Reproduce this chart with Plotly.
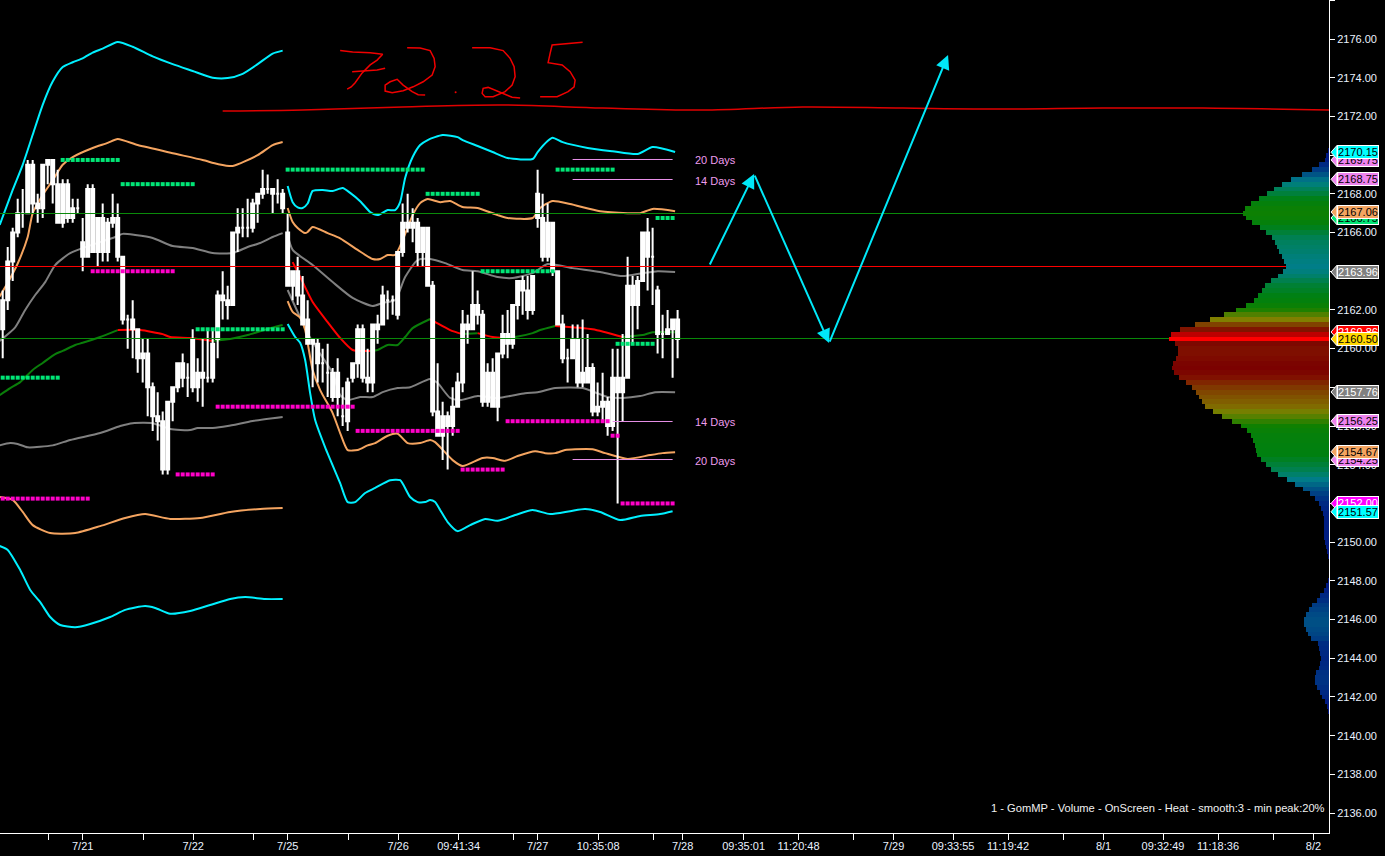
import plotly.graph_objects as go

BG = "#000000"
bars = list(range(136))
opens = [2162.5,2164.5,2166,2167,2167,2169.5,2169.5,2167.5,2169.5,2169.75,2169.75,2168.5,2168.5,2168.5,2167.25,2167.25,
 2165.5,2168.25,2168.25,2166.75,2166.75,2166.5,2166.75,2166.75,2164.75,2161.5,2161.5,2161,2159.75,2159.75,2158,2156.5,
 2156.25,2157.25,2158,2159.25,2159.25,2158.5,2160.5,2158.75,2158.75,2158.5,2160.25,2162.75,2162.75,2162.5,2166,2166.25,
 2166.25,2166.25,2167.5,2168,2168.25,2168.25,2168.25,2168,2168,2166,2164,2164,2162.75,2161.5,2160.5,2160.25,2159.25,2158.75,
 2158.75,2158.75,2156.5,2158.25,2159.25,2161,2161,2158.5,2161.25,2161.25,2162.75,2162.5,2162.5,2165,2166.5,2166.5,2166.5,2166.5,
 2166.25,2166.25,2163.25,2156.75,2156.5,2156.5,2157,2158.25,2161.25,2161.25,2162.25,2162.25,2161.75,2158.75,2158.75,2159.75,
 2160.75,2160.75,2162.25,2163.5,2163.5,2163,2163.75,2168,2166.75,2166.5,2166.5,2164,2161.25,2159.5,2160.5,2160.5,2158.75,2159,
 2159,2157,2157.25,2157.25,2158.5,2158.5,2158.5,2163.25,2163.25,2163.5,2166,2166,2164.75,2163,2160.75,2161,2161.5,2161.5]
closes = [2161,2162.5,2164.5,2166,2167,2167,2167.5,2167.25,2167.25,2169.5,2168.5,2166.5,2166.5,2166.75,2166.75,2167.25,
 2164.75,2164.75,2165,2165,2165,2165,2166.5,2164.75,2161.5,2161.5,2161,2159.5,2159.5,2158,2156.5,2156.25,
 2153.75,2153.75,2157.25,2158,2158.5,2158.5,2158,2158,2158.5,2158.5,2158.5,2160.5,2162.5,2162.25,2162.25,2166,
 2166.25,2166.25,2166.25,2167.5,2168,2168.25,2168,2168,2167.25,2163.25,2163.25,2162.75,2161.25,2160.25,2160.25,2159.25,2159.25,2158.75,
 2157.5,2157.5,2156.5,2156.25,2158.5,2159.25,2158.5,2158.25,2158.25,2161,2161.25,2162.5,2162.5,2161.75,2165,2166.25,2166.25,2165,
 2165,2163.25,2156.75,2155.5,2155.5,2156,2156,2157,2158.25,2161,2161,2161.75,2157.25,2157.25,2157,2157,
 2159.75,2160.25,2160.25,2162.25,2163,2162,2162,2166.75,2164.75,2164.75,2164,2161.25,2159.5,2159.5,2159.5,2158.25,2158.25,2158.25,
 2156.75,2156.75,2157,2156,2156,2157.75,2157.75,2158.5,2162.25,2162.25,2163.5,2164.75,2164.75,2160.75,2160.75,2160.75,2161,2160.5]
highs = [2163,2165.25,2166.25,2167.75,2168.25,2169.75,2169.75,2168,2169.5,2169.75,2169.75,2169.25,2168.75,2168.75,2167.75,2167.75,
 2166.75,2168.5,2168.5,2166.75,2167.5,2166.75,2168,2167.5,2164.75,2161.75,2162.5,2161,2160.5,2160.5,2158.25,2157.75,
 2156.75,2157.25,2158,2159.25,2159.75,2159.25,2161,2159.5,2160.5,2161,2161,2163,2164,2163.25,2166,2167.25,
 2167.25,2167.75,2167.75,2168,2169.25,2169,2168.25,2168.75,2168.25,2167,2164,2164.75,2163.75,2162.5,2160.5,2160.5,2160,2160.25,
 2159,2159.5,2158,2158.5,2159.25,2161.25,2161.25,2160,2161.25,2161.75,2163.25,2163,2162.75,2165,2167.5,2168,2167.25,2166.75,
 2166.25,2166.25,2163.5,2159.25,2157.25,2156.75,2158,2158.75,2162,2161.75,2164,2163,2162,2159.25,2159.5,2159.75,
 2161.75,2162,2162.25,2163.5,2163.75,2163.75,2163.75,2169.25,2168,2167.5,2166.5,2164,2161.75,2160,2161.25,2161.25,2161.5,2160.75,
 2159.25,2158.25,2158.75,2157.5,2160,2160,2160.75,2164.75,2163.75,2163.75,2166,2166.75,2166.25,2163.25,2161.75,2162,2161.5,2162]
lows = [2159.5,2162,2163.5,2165.75,2166.25,2167,2167,2166.5,2166.75,2168.5,2167.5,2166.5,2166.25,2166.5,2166.5,2167,
 2164,2164.75,2165,2164.25,2164.5,2164.5,2166.25,2164.5,2161.25,2160,2159.5,2158.75,2158.25,2156.5,2155.75,2155.25,
 2153.5,2153.5,2156.25,2157.75,2158,2157.5,2157.75,2157.25,2157,2158.25,2158.25,2159.5,2161.5,2161.5,2162.25,2165,
 2165.75,2165.75,2166,2166.5,2167.75,2168,2167,2167.5,2167,2163.25,2162.5,2162.25,2161.25,2160.25,2158,2158.25,2158.25,2157.5,
 2157.25,2156.5,2156,2155.75,2158.25,2158.5,2158.25,2157.75,2157.75,2160.25,2161.25,2161.5,2161.75,2161.5,2164.75,2166,2165.5,2164.25,
 2164.25,2163.25,2156.5,2155.5,2154.25,2153.75,2155.5,2157,2157.75,2160.25,2161,2161.25,2157,2157,2157,2156.25,
 2159.5,2159.5,2160,2161.5,2161.75,2161.5,2161.75,2166.25,2164.5,2164.5,2163.75,2161.25,2159.25,2158.25,2159.5,2158,2158,2158.25,
 2156.5,2156.5,2156.25,2155.5,2155.75,2152,2156.25,2158.5,2160.25,2161,2163.5,2163,2162.25,2159.75,2159.5,2160.75,2158.5,2159.5]

up_cyan1_x = [-0.6,2,4,6,8,10,12,14,16,18,20,23,26,30,34,38,42,45,48,51,54,56]
up_cyan1_y = [2166.4,2168.2,2169.5,2171.05,2172.6,2173.8,2174.55,2174.8,2175,2175.3,2175.5,2175.85,2175.6,2175.1,2174.7,2174.35,2174,2173.98,2174.2,2174.7,2175.25,2175.4]
up_cyan2_x = [57,58,59,60,61,62,64,66,68,69.5,71.5,73.5,75,77,78.5,79.5,80.5,82,83.5,85,88,91,92,95,98,101,106,107,109,110,112,117,122,127,130,134.5]
up_cyan2_y = [2168.4,2167.57,2167.3,2167.27,2167.5,2168.15,2168.2,2168.15,2168.3,2168.05,2167.62,2167.06,2166.9,2167.16,2167.16,2167.57,2168.82,2169.9,2170.52,2170.78,2171.04,2170.93,2170.78,2170.47,2170.16,2169.85,2169.8,2170.16,2170.73,2170.9,2170.67,2170.37,2170.2,2170.06,2170.42,2170.16]
up_orange1_x = [-0.6,1,3,5,6,8,10,12,14,18,21,23,27,34,40,43,46,51,54,56]
up_orange1_y = [2162.7,2163.4,2164.4,2165.77,2167,2167.94,2168.7,2169.5,2169.9,2170.37,2170.63,2170.83,2170.52,2170.1,2169.75,2169.54,2169.44,2170,2170.52,2170.68]
up_orange2_x = [57,58,59,60.5,61,62,65,67.5,71,74,75.5,77,78.5,80,82,83.5,85,87.5,89.5,92,95,99,101,106,107.5,110,113.5,119.5,125,127.5,130,134.5]
up_orange2_y = [2167.27,2166.54,2166.23,2165.97,2166.03,2166.29,2165.97,2165.7,2165.1,2164.63,2164.63,2164.84,2164.84,2165.6,2166.9,2167.52,2167.73,2167.57,2167.63,2167.32,2167.27,2166.9,2166.75,2166.75,2167.27,2167.63,2167.47,2167.1,2167,2167,2167.22,2167.1]
up_gray1_x = [-0.6,2.5,4.5,6.5,8.5,10.5,13.5,16,22.5,24,26.5,30,34,38,42,46,49,51.5,54,56]
up_gray1_y = [2160.4,2161.1,2162,2162.77,2163.44,2164.32,2164.94,2165.2,2165.77,2165.93,2165.87,2165.72,2165.3,2165.2,2164.94,2164.94,2165.25,2165.46,2165.77,2165.97]
up_gray2_x = [57,58,62,66,70,74,76,78.5,80.5,83,85.5,88.5,92,95,99,102,106,109,114,119.5,124,128,131,134.5]
up_gray2_y = [2165.87,2165.1,2164.32,2163.44,2162.62,2162.2,2162.36,2162.51,2163.7,2164.58,2164.63,2164.42,2164.06,2164,2163.7,2163.65,2163.9,2164.37,2164.16,2163.96,2163.75,2163.9,2164,2163.96]

mid_green_a_x = [-0.6,1.5,3.5,6,8,10.5,12,14.5,16,19.5,23]
mid_green_a_y = [2157.6,2157.96,2158.27,2158.9,2159.26,2159.72,2159.88,2160.19,2160.3,2160.6,2160.96]
mid_red_a_x = [23,27.5,32,33.5,37.5,42]
mid_red_a_y = [2160.96,2160.96,2160.75,2160.6,2160.55,2160.4]
mid_green_b_x = [42,45.5,49,53,56]
mid_green_b_y = [2160.4,2160.5,2160.7,2161.02,2161.22]
mid_red_b_x = [58,60,62,65,67.5,70,73.5]
mid_red_b_y = [2164.47,2163.44,2162.41,2161.37,2160.55,2159.93,2159.88]
mid_green_c_x = [73.5,75,77,79,80.5,82,85.5]
mid_green_c_y = [2159.88,2159.93,2160.19,2160.19,2160.6,2161.06,2161.53]
mid_red_c_x = [85.5,87,89.5,92]
mid_red_c_y = [2161.53,2161.3,2160.96,2160.75]
mid_green_d_x = [92,95]
mid_green_d_y = [2160.75,2160.8]
mid_red_d_x = [95,98,100.5]
mid_red_d_y = [2160.8,2160.6,2160.55]
mid_green_e_x = [100.5,102.5,106,107.5,110.5]
mid_green_e_y = [2160.55,2160.6,2160.8,2160.96,2161.17]
mid_red_e_x = [110.5,118,124]
mid_red_e_y = [2161.17,2161,2160.6]
mid_green_f_x = [124,128,130,134.5]
mid_green_f_y = [2160.6,2160.7,2160.85,2160.85]

lo_gray1_x = [-0.6,1.5,3,5,10,13.5,19.5,23.5,26,30,33.5,37.5,39,42,45,50,56]
lo_gray1_y = [2155,2155.12,2155.07,2154.9,2155,2155.28,2155.64,2156,2156.15,2156.15,2155.85,2155.79,2155.9,2155.9,2156,2156.26,2156.47]
lo_gray2_x = [57,61,63,66,67.5,69,71.5,74,76,79,81.5,85.5,87,89.5,91.5,95,99,104.5,107,110.5,116,121,124,127.5,130.5,134.5]
lo_gray2_y = [2163.03,2160.8,2159.93,2158.74,2157.6,2157.34,2157.5,2157.5,2157.75,2157.96,2158,2158.43,2158.22,2157.45,2157.34,2157.55,2157.45,2157.7,2157.75,2157.96,2157.96,2157.5,2157.45,2157.55,2157.75,2157.75]
lo_orange1_x = [-0.6,2,4,6,9.5,14.5,19.5,24.5,28.5,33.5,39.5,45.5,51.5,56]
lo_orange1_y = [2152.33,2152.18,2151.56,2150.88,2150.47,2150.47,2150.83,2151.25,2151.45,2151.2,2151.25,2151.56,2151.71,2151.76]
lo_orange2_x = [57,58,59.5,60.5,62,63.5,66,67.5,69,71,73,74.5,77,79,81,83.5,85.5,86.5,90,92,96,98,100.5,103,106.5,108.5,110.5,112.5,114.5,118,120.5,125,129.5,132,134.5]
lo_orange2_y = [2162.46,2161.9,2161.6,2160.96,2158.9,2157.86,2156.67,2155.64,2154.76,2154.76,2155,2155.12,2155.5,2155.6,2155.12,2155.12,2155.28,2155.17,2154.24,2153.93,2154.35,2154.35,2154.2,2154.45,2154.7,2154.6,2154.6,2154.76,2154.8,2154.8,2154.6,2154.3,2154.5,2154.6,2154.65]
lo_cyan1_x = [-0.6,1,3.5,5.5,7.5,9.5,11.5,14.5,17.5,21.5,24.5,28.5,30.5,33.5,37.5,41.5,45.5,48.5,52.5,56]
lo_cyan1_y = [2149.8,2149.6,2148.56,2147.53,2146.9,2146.13,2145.72,2145.6,2145.77,2146.13,2146.5,2146.7,2146.6,2146.3,2146.44,2146.75,2147.06,2147.16,2147.06,2147.06]
lo_cyan2_x = [57,58.5,59.5,60.5,61.5,62.5,64.5,67.5,69,70.5,72.5,74.5,77.5,79.5,81.5,83,84.5,85.5,86.5,87.5,89,91,93.5,96.5,99,102.5,106,109.5,113.5,116.5,119.5,123.5,127.5,131.5,134]
lo_cyan2_y = [2161.27,2160.6,2160.3,2159.41,2157.7,2156.31,2154.9,2153.05,2152.07,2152.07,2152.54,2152.8,2153.2,2153.2,2152.33,2152.07,2152.07,2152.18,2152.07,2151.66,2151.04,2150.57,2150.88,2151.2,2151.1,2151.4,2151.66,2151.45,2151.6,2151.71,2151.56,2151.14,2151.35,2151.45,2151.6]

green_pivots = [(0,11,2158.5),(12,23,2169.75),(24,38,2168.5),(39,56,2161),(57,84,2169.25),(85,95,2168),(96,110,2164),(111,122,2169.25),(123,130,2160.25),(131,134,2166.75)]
magenta_pivots = [(0,17,2152.25),(18,34,2164),(35,42,2153.5),(43,70,2157),(71,91,2155.75),(92,100,2153.75),(101,121,2156.25),(122,123,2155.5),(124,134,2152)]

range_lines = [(114,134,2169.774),(114,134,2168.74),(122,134,2156.235),(114,134,2154.27)]
range_labels = ["20 Days","14 Days","14 Days","20 Days"]
level_value = 2166.983
level_mid = 2164.245
level_poc = 2160.524

profile_prices = [2170.25-0.25*i for i in range(85)] + [2148.0-0.25*i for i in range(28)]
profile_volume = [1,3,4,10,17,27,38,47,55,62, 70,78,84,86,83,77,69,63, 57,54,52,50,47,45,43,46,
 51,58,64,67,71,75,83,93, 105,119,134,149,158,160,154,151, 151,153,156,157,155,150,143,137,
 133,130,127,124,116,107,97,88, 82,78,76,74,73,72,68,63, 58,51,42,34,26,19,14,10, 8,6,5,5,5,5,5,4, 3,2,1,
 1,3,5,9,12,17,20,23, 25,25,23,21,18,11,10,9, 8,9,10,13,14,14,12,9, 7,4,2,1]

hand_line_x = [44,60,80,100,120,140,160,180,200,220,240,265.3]
hand_line_y = [2172.28,2172.33,2172.49,2172.59,2172.43,2172.33,2172.49,2172.43,2172.38,2172.43,2172.43,2172.33]
ink_7a_x = [67.5,70,73.5,76,74.9,73.5,71.9,70.5,69.7,68.9]
ink_7a_y = [2175.4,2175.33,2175.29,2175.21,2174.91,2174.66,2174.25,2173.74,2173.52,2173.41]
ink_7b_x = [69.9,72.1,74.9,76.5]
ink_7b_y = [2174.31,2174.36,2174.4,2174.49]
ink_2a_x = [80.9,83.5,85.5,86.3,86.5,85.9,84.1,82.1,80.1,77.9,76.5,76.5,77.5,78.9,80.1,81.9,83.1,84.5]
ink_2a_y = [2175.55,2175.53,2175.4,2175,2174.57,2174.14,2173.79,2173.53,2173.33,2173.22,2173.31,2173.62,2173.79,2173.92,2173.62,2173.28,2173.12,2173.11]
ink_2b_x = [93.9,97.5,100.1,101.5,102.3,102.5,101.9,100.5,98.1,96.5,95.9,96.1,97.1,98.5,100.1,101.9,103.5]
ink_2b_y = [2175.55,2175.55,2175.4,2175,2174.57,2174.05,2173.62,2173.28,2173.02,2173.02,2173.19,2173.45,2173.5,2173.36,2173.19,2172.99,2172.95]
ink_5_x = [116,112.9,109.9,109.5,109.1,111.9,113.5,114.5,114.3,113.1,110.9,107.5]
ink_5_y = [2175.83,2175.74,2175.69,2175.26,2174.78,2174.66,2174.31,2173.88,2173.53,2173.28,2173.02,2173.02]
ink_dot = (90.6,2173.25)

arrow_x = [141.3,150.3,165.3,189.1]
arrow_y = [2164.27,2169.02,2160.29,2175.17]

tag_values = [2169.75,2170.15,2168.75,2166.75,2167.06,2163.96,2160.86,2160.50,2157.76,2156.25,2154.25,2154.67,2152.00,2151.57]
tag_fill = ["#ee82ee","#00ffff","#ee82ee","#00e676","#f4a460","#808080","#ff0000","#ffd700","#808080","#ee82ee","#ee82ee","#f4a460","#ff00ff","#00ffff"]
tag_text = ["black","black","black","black","black","white","white","black","white","black","black","black","white","black"]

x_tick_vals = [9.2,16,28.1,38.1,50.2,57,69.2,79.1,91.2,102.1,107,119.1,130.2,136,148.2,159.2,170.2,178.2,190.1,201.1,212.2,220.2,232.1,243.1,254.1,262.2]
x_tick_text = ["","7/21","","7/22","","7/25","","7/26","09:41:34","","7/27","10:35:08","","7/28","09:35:01","11:20:48","","7/29","09:33:55","11:19:42","","8/1","09:32:49","11:18:36","","8/2"]
y_ticks = list(range(2136,2180,2))
y_hidden_labels = [2152,2158,2164,2170]

X_RANGE = [-0.54,265.3]
Y_RANGE = [2134.97,2178.016]

fig = go.Figure()
def line(x,y,c,w=2,axes="x",ya="y"):
    fig.add_trace(go.Scatter(x=x,y=y,mode="lines",line=dict(color=c,width=w,shape="spline",smoothing=0.6),xaxis=axes,yaxis=ya,hoverinfo="skip"))

CY,OR,GY,GR,RD = "#00f0ff","#f4a460","#808080","#0a7d0a","#ff0000"
for x,y,c in [(up_cyan1_x,up_cyan1_y,CY),(up_cyan2_x,up_cyan2_y,CY),(up_orange1_x,up_orange1_y,OR),(up_orange2_x,up_orange2_y,OR),
              (up_gray1_x,up_gray1_y,GY),(up_gray2_x,up_gray2_y,GY),
              (mid_green_a_x,mid_green_a_y,GR),(mid_red_a_x,mid_red_a_y,RD),(mid_green_b_x,mid_green_b_y,GR),
              (mid_red_b_x,mid_red_b_y,RD),(mid_green_c_x,mid_green_c_y,GR),(mid_red_c_x,mid_red_c_y,RD),(mid_green_d_x,mid_green_d_y,GR),
              (mid_red_d_x,mid_red_d_y,RD),(mid_green_e_x,mid_green_e_y,GR),(mid_red_e_x,mid_red_e_y,RD),(mid_green_f_x,mid_green_f_y,GR),
              (lo_gray1_x,lo_gray1_y,GY),(lo_gray2_x,lo_gray2_y,GY),(lo_orange1_x,lo_orange1_y,OR),(lo_orange2_x,lo_orange2_y,OR),
              (lo_cyan1_x,lo_cyan1_y,CY),(lo_cyan2_x,lo_cyan2_y,CY)]:
    line(x,y,c)

fig.add_trace(go.Bar(y=profile_prices,x=profile_volume,orientation="h",width=0.25,xaxis="x4",yaxis="y",
    marker=dict(color=profile_volume,cmin=0,cmax=160,line=dict(width=0),
      colorscale=[[0,"#001080"],[0.156,"#004f85"],[0.27,"#007f88"],[0.36,"#008050"],[0.45,"#008010"],[0.56,"#108000"],
                  [0.656,"#508000"],[0.744,"#807f00"],[0.84,"#804000"],[0.94,"#801000"],[0.985,"#7a0000"],[0.99,"#ff0000"],[1,"#ff0000"]]),hoverinfo="skip"))

fig.add_trace(go.Candlestick(x=bars,open=opens,high=highs,low=lows,close=closes,xaxis="x2",yaxis="y2",whiskerwidth=0,
    increasing=dict(line=dict(color="#ffffff",width=2),fillcolor="#ffffff"),
    decreasing=dict(line=dict(color="#ffffff",width=2),fillcolor="#ffffff"),hoverinfo="skip"))

def top(x,y,c,w=1):
    fig.add_trace(go.Scatter(x=x,y=y,mode="lines",line=dict(color=c,width=w),xaxis="x3",yaxis="y3",hoverinfo="skip"))

top([-1,248.5],[level_value,level_value],"#0a8a0a")
top([-1,256.7],[level_mid,level_mid],RD)
top([-1,233.3],[level_poc,level_poc],"#0a8a0a")
for (a,b,p) in range_lines:
    top([a,b],[p,p],"#e890e8")

for piv,c in [(green_pivots,"#00e676"),(magenta_pivots,"#ff00c8")]:
    for a,b,p in piv:
        fig.add_trace(go.Scatter(x=list(range(a,b+1)),y=[p]*(b-a+1),mode="markers",xaxis="x3",yaxis="y3",
            marker=dict(symbol="square",size=4,color=c,line=dict(width=0)),hoverinfo="skip"))

fig.add_trace(go.Scatter(x=hand_line_x,y=hand_line_y,mode="lines",line=dict(color="#e00000",width=1.5,shape="spline"),xaxis="x3",yaxis="y3",hoverinfo="skip"))
for x,y in [(ink_7a_x,ink_7a_y),(ink_7b_x,ink_7b_y),(ink_2a_x,ink_2a_y),(ink_2b_x,ink_2b_y),(ink_5_x,ink_5_y)]:
    fig.add_trace(go.Scatter(x=x,y=y,mode="lines",line=dict(color="#f00000",width=1.5),xaxis="x3",yaxis="y3",hoverinfo="skip"))
fig.add_trace(go.Scatter(x=[ink_dot[0]],y=[ink_dot[1]],mode="markers",marker=dict(color="#f00000",size=2),xaxis="x3",yaxis="y3",hoverinfo="skip"))

TIP, BASE, HALF = 1+2/1329, 1+8/1329, 0.35
shapes = []
for v,f in zip(tag_values,tag_fill):
    shapes.append(dict(type="path",xref="paper",yref="y",path=f"M {BASE} {v-HALF} L {TIP} {v} L {BASE} {v+HALF} Z",
        fillcolor=f,line=dict(color="#ffffff",width=1),layer="above"))

ann = []
for i in range(3):
    ann.append(dict(x=arrow_x[i+1],y=arrow_y[i+1],ax=arrow_x[i],ay=arrow_y[i],xref="x3",yref="y3",axref="x3",ayref="y3",text="",
        showarrow=True,arrowhead=2,arrowsize=1.4,arrowwidth=2,arrowcolor="#00e8f8"))
for (a,b,p),t in zip(range_lines,range_labels):
    ann.append(dict(x=138,y=p,xref="x3",yref="y3",yshift=-1,text=t,showarrow=False,xanchor="left",yanchor="middle",font=dict(family="Liberation Sans",size=11,color="#ee9cee")))
ann.append(dict(x=1,xref="paper",xanchor="right",xshift=-2,y=2136.25,yref="y",text="1 - GomMP - Volume - OnScreen - Heat - smooth:3 - min peak:20%",showarrow=False,font=dict(family="Liberation Sans",size=11.15,color="#f0f0f0")))
for v,f,tc in zip(tag_values,tag_fill,tag_text):
    ann.append(dict(x=1,xref="paper",xanchor="left",xshift=8,y=v,yref="y",text=f"{v:.2f}",showarrow=False,bgcolor=f,bordercolor="#ffffff",borderwidth=1,borderpad=0,
        width=40,height=12,font=dict(family="Liberation Sans",size=11,color=tc)))

hidden_x = dict(range=X_RANGE,visible=False,overlaying="x",anchor="y")
fig.update_layout(
    width=1385,height=856,paper_bgcolor=BG,plot_bgcolor=BG,showlegend=False,hovermode=False,boxgap=0.15,bargap=0,
    margin=dict(l=0,r=56,t=0,b=23),annotations=ann,shapes=shapes,
    font=dict(family="Liberation Sans",size=11,color="#ffffff"),
    xaxis=dict(range=X_RANGE,showgrid=False,zeroline=False,showline=True,linecolor="#ffffff",linewidth=1,
        tickmode="array",tickvals=x_tick_vals,ticktext=x_tick_text,ticks="outside",ticklen=6,tickcolor="#ffffff",tickwidth=1,
        tickangle=0,tickfont=dict(family="Liberation Sans",size=11,color="#eaf2ff"),ticklabelstandoff=-3,rangeslider=dict(visible=False)),
    xaxis2=dict(hidden_x,rangeslider=dict(visible=False)),xaxis3=hidden_x,
    xaxis4=dict(range=[1329,0],visible=False,overlaying="x",anchor="y"),
    yaxis=dict(range=Y_RANGE,side="right",showgrid=False,zeroline=False,showline=True,linecolor="#ffffff",linewidth=1,
        tickmode="array",tickvals=y_ticks,ticktext=["" if t in y_hidden_labels else f"{t}.00" for t in y_ticks],ticks="outside",ticklen=5,tickcolor="#ffffff",
        tickfont=dict(family="Liberation Sans",size=11,color="#eaf2ff")),
    yaxis2=dict(range=Y_RANGE,visible=False,overlaying="y",anchor="x2"),
    yaxis3=dict(range=Y_RANGE,visible=False,overlaying="y",anchor="x3"),
)
fig.write_html("out.html",config=dict(displayModeBar=False),
    post_script="document.body.style.margin='0';document.body.style.background='#000';document.body.style.overflow='hidden';")
